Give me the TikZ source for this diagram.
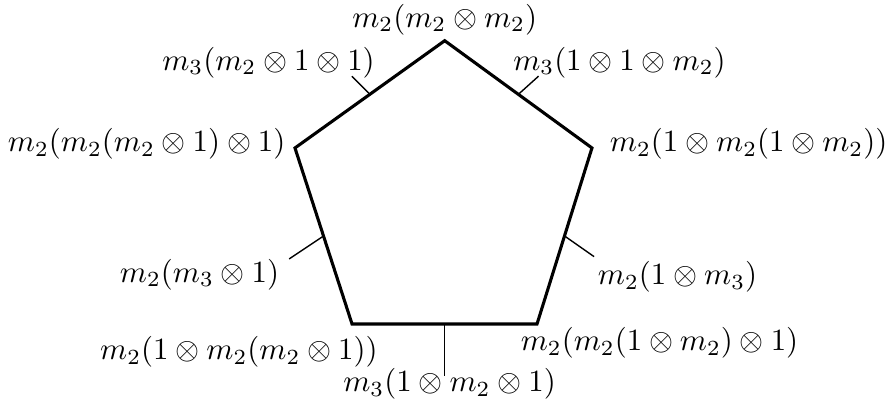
\documentclass[tikz,border=0pt]{standalone}
\usepackage{tikz}

\begin{document}
\begin{tikzpicture}[lato/.style={line width=1pt},tacca/.style={line width=0.45pt},etichetta/.style={inner sep=0pt}]
    \useasboundingbox (0,0) rectangle (10.10,4.572);
    % Vertici del pentagono
    \coordinate (v1) at (5.058,4.109);
    \coordinate (v2) at (3.355,2.889);
    \coordinate (v3) at (4.004,0.887);
    \coordinate (v4) at (6.108,0.887);
    \coordinate (v5) at (6.733,2.889);

    % Punti medi dei lati
    \coordinate (e1) at (4.207,3.499);
    \coordinate (e2) at (3.680,1.888);
    \coordinate (e3) at (5.056,0.887);
    \coordinate (e4) at (6.421,1.888);
    \coordinate (e5) at (5.896,3.499);

    % Estremi delle tacche
    \coordinate (k1) at (4.002,3.704);
    \coordinate (k2) at (3.289,1.627);
    \coordinate (k3) at (5.056,0.300);
    \coordinate (k4) at (6.757,1.653);
    \coordinate (k5) at (6.126,3.706);

    % Etichette dei vertici
    \node[etichetta] (a1) at (5.058,4.350) {$m_2(m_2\otimes m_2)$};
    \node[etichetta,anchor=east] (a2) at (3.253,2.934) {$m_2(m_2(m_2\otimes 1)\otimes 1)$};
    \node[etichetta] (a3) at (2.718,0.569) {$m_2(1\otimes m_2(m_2\otimes 1))$};
    \node[etichetta] (a4) at (7.501,0.671) {$m_2(m_2(1\otimes m_2)\otimes 1)$};
    \node[etichetta,anchor=west] (a5) at (6.930,2.934) {$m_2(1\otimes m_2(1\otimes m_2))$};

    % Etichette dei lati
    \node[etichetta] (b1) at (3.054,3.861) {$m_3(m_2\otimes 1\otimes 1)$};
    \node[etichetta] (b2) at (2.269,1.450) {$m_2(m_3\otimes 1)$};
    \node[etichetta] (b3) at (5.113,0.205) {$m_3(1\otimes m_2\otimes 1)$};
    \node[etichetta] (b4) at (7.706,1.422) {$m_2(1\otimes m_3)$};
    \node[etichetta] (b5) at (7.046,3.861) {$m_3(1\otimes 1\otimes m_2)$};

    % Pentagono
    \draw[lato] (v1) -- (v2) -- (v3) -- (v4) -- (v5) -- cycle;
    \draw[tacca] (e1) -- (k1);
    \draw[tacca] (e2) -- (k2);
    \draw[tacca] (e3) -- (k3);
    \draw[tacca] (e4) -- (k4);
    \draw[tacca] (e5) -- (k5);
\end{tikzpicture}
\end{document}
